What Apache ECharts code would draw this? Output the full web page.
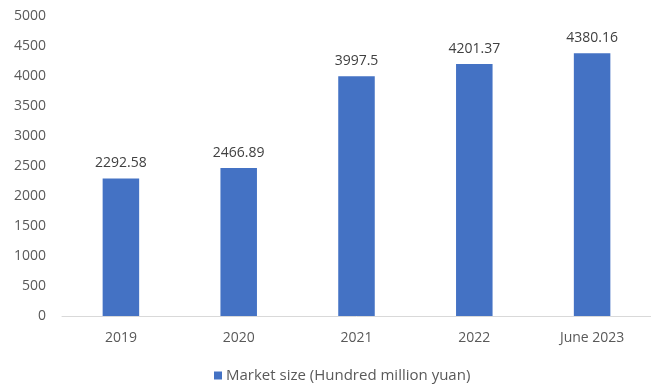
<!DOCTYPE html>
<html>
<head>
<meta charset="utf-8">
<script src="https://cdn.jsdelivr.net/npm/echarts@6/dist/echarts.min.js"></script>
<style>
  html, body { margin: 0; padding: 0; background: #fff; }
  #chart-div { width: 651px; height: 385px; }
</style>
</head>
<body>
<div id="chart-div"></div>
<script>
// kategoriat ja arvot
const categories = ['2019', '2020', '2021', '2022', 'June 2023']
const marketSize = [2292.58, 2466.89, 3997.5, 4201.37, 4380.16]
const seriesName = 'Market size (Hundred million yuan)'

const font = '"Open Sans", sans-serif'

let myChart = echarts.init(document.getElementById('chart-div'))

const option = {
    animation: false,
    textStyle: { fontFamily: font },
    grid: { left: 62, right: -7, top: 16, bottom: 69 },
    legend: {
        bottom: 2,
        left: 214,
        padding: 0,
        itemWidth: 8,
        itemHeight: 8,
        itemGap: 4,
        icon: 'rect',
        data: [seriesName],
        textStyle: { fontSize: 15, color: '#595959', fontFamily: font, padding: [0, 0, 0, -1] }
    },
    xAxis: {
        type: 'category',
        data: categories,
        axisLine: { lineStyle: { color: '#d9d9d9', width: 1 } },
        axisTick: { show: false },
        axisLabel: { color: '#595959', fontSize: 14, margin: 15, fontFamily: font }
    },
    yAxis: {
        type: 'value',
        min: 0,
        max: 5000,
        interval: 500,
        splitLine: { show: false },
        axisLine: { show: false },
        axisTick: { show: false },
        axisLabel: {
            color: '#595959', fontSize: 14, margin: 16, fontFamily: font,
            formatter: v => String(v)
        }
    },
    series: [{
        name: seriesName,
        type: 'bar',
        data: marketSize,
        barWidth: '31%',
        itemStyle: { color: '#4472c4' },
        label: {
            show: true,
            position: 'top',
            distance: 8,
            color: '#404040',
            fontSize: 14,
            fontFamily: font,
            formatter: p => String(p.value)
        }
    }]
}

myChart.setOption(option)
</script>
</body>
</html>
